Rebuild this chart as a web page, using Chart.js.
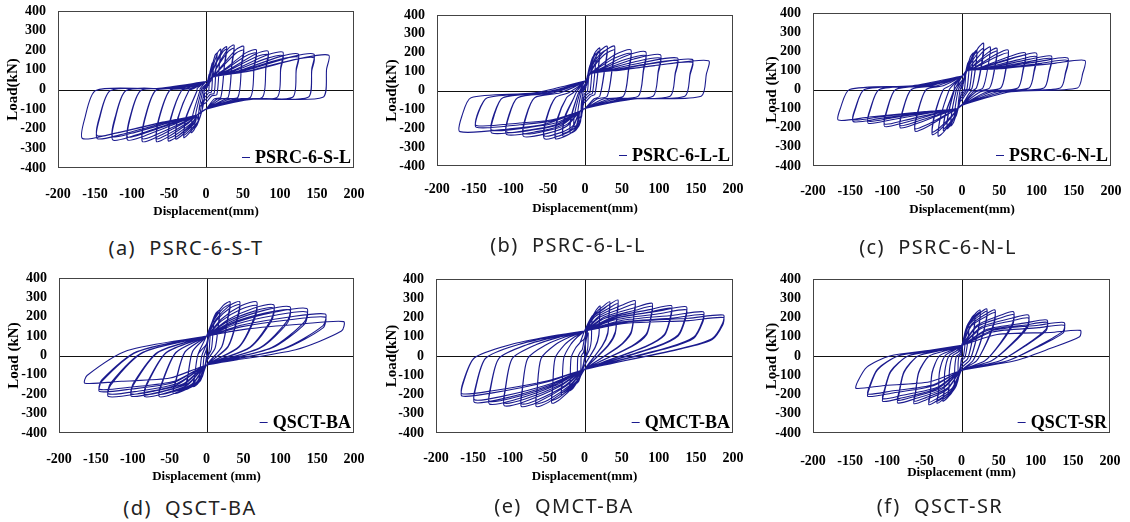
<!DOCTYPE html>
<html>
<head>
<meta charset="utf-8">
<script src="https://cdn.jsdelivr.net/npm/chart.js@4.4.0/dist/chart.umd.min.js"></script>
<style>
  body { margin: 0; background: #fff; }
  #wrap { position: relative; width: 1130px; height: 522px; overflow: hidden; }
  #wrap canvas { position: absolute; }
  .cap { position: absolute; transform: translate(-50%, -50%); white-space: pre;
         font: 20px "Noto Sans", "Noto Sans CJK KR", sans-serif; color: #222; letter-spacing: 1.4px; }
</style>
</head>
<body>
<div id="wrap"></div>
<script>
// ===== 축 눈금 / 라벨 =====
const dispTicks = [-200, -150, -100, -50, 0, 50, 100, 150, 200];
const loadTicks = [-400, -300, -200, -100, 0, 100, 200, 300, 400];
const specimens = ['PSRC-6-S-L', 'PSRC-6-L-L', 'PSRC-6-N-L', 'QSCT-BA', 'QMCT-BA', 'QSCT-SR'];
const captions = ['(a)  PSRC-6-S-T', '(b)  PSRC-6-L-L', '(c)  PSRC-6-N-L', '(d)  QSCT-BA', '(e)  QMCT-BA', '(f)  QSCT-SR'];
const yTitles = ['Load(kN)', 'Load(kN)', 'Load (kN)', 'Load (kN)', 'Load(kN)', 'Load (kN)'];
const xTitles = ['Displacement(mm)', 'Displacement(mm)', 'Displacement(mm)', 'Displacement (mm)', 'Displacement(mm)', 'Displacement (mm)'];

// ===== 사이클 피크값 (변위 mm, 하중 kN) =====
// (a) PSRC-6-S-L
const aDispPos = [5, 10, 15, 20, 28, 28, 38, 38, 51, 51, 68, 68, 84, 84, 104, 104, 125, 125, 146, 146, 166];
const aLoadPos = [80, 140, 185, 205, 218, 205, 226, 210, 220, 200, 202, 185, 195, 178, 190, 172, 180, 165, 180, 162, 175];
const aDispNeg = [-5, -10, -15, -20, -30, -30, -41, -41, -51, -51, -67, -67, -86, -86, -106, -106, -126, -126, -147, -147, -167];
const aLoadNeg = [-90, -150, -195, -220, -245, -232, -252, -240, -262, -248, -265, -250, -265, -250, -257, -242, -257, -240, -250, -235, -250];
// (b) PSRC-6-L-L
const bDispPos = [5, 10, 15, 20, 20, 30, 30, 40, 40, 62, 62, 82, 82, 102, 102, 125, 125, 145, 145, 167];
const bLoadPos = [90, 150, 195, 225, 210, 235, 215, 235, 215, 215, 195, 205, 185, 190, 172, 172, 158, 165, 150, 158];
const bDispNeg = [-5, -10, -15, -20, -20, -30, -30, -40, -40, -55, -55, -83, -83, -106, -106, -126, -126, -147, -147, -169];
const bLoadNeg = [-90, -150, -190, -225, -210, -240, -225, -255, -240, -255, -240, -243, -228, -233, -220, -225, -210, -195, -185, -218];
// (c) PSRC-6-N-L
const cDispPos = [5, 10, 15, 20, 20, 29, 29, 38, 47, 47, 62, 62, 85, 85, 100, 100, 120, 120, 142, 142, 165];
const cLoadPos = [90, 150, 190, 206, 195, 242, 215, 222, 216, 200, 206, 190, 192, 178, 190, 172, 175, 162, 165, 152, 152];
const cDispNeg = [-5, -10, -15, -20, -20, -25, -25, -32, -40, -40, -63, -63, -83, -83, -104, -104, -126, -126, -146, -146, -166];
const cLoadNeg = [-90, -150, -190, -205, -195, -215, -205, -244, -236, -222, -218, -205, -200, -188, -193, -180, -176, -165, -168, -158, -160];
// (d) QSCT-BA
const dDispPos = [5, 10, 18, 18, 32, 32, 45, 45, 68, 68, 91, 91, 113, 113, 136, 136, 161, 161, 186];
const dLoadPos = [110, 180, 234, 222, 277, 262, 278, 262, 277, 258, 262, 245, 252, 235, 243, 225, 214, 198, 175];
const dDispNeg = [-5, -10, -18, -18, -29, -29, -45, -45, -64, -64, -84, -84, -102, -102, -133, -133, -145, -145, -165];
const dLoadNeg = [-70, -120, -160, -150, -175, -165, -195, -185, -212, -200, -212, -200, -210, -198, -212, -198, -186, -175, -143];
// (e) QMCT-BA
const eDispPos = [5, 10, 21, 21, 34, 34, 45, 45, 68, 68, 91, 91, 117, 117, 137, 137, 160, 160, 187, 187];
const eLoadPos = [120, 190, 260, 245, 282, 265, 291, 272, 288, 270, 274, 258, 262, 248, 256, 240, 230, 215, 213, 200];
const eDispNeg = [-5, -10, -20, -20, -31, -31, -44, -44, -65, -65, -85, -85, -108, -108, -128, -128, -148, -148, -165, -165];
const eLoadNeg = [-80, -140, -180, -170, -200, -190, -245, -230, -262, -248, -262, -248, -258, -244, -250, -236, -242, -228, -208, -196];
// (f) QSCT-SR
const fDispPos = [5, 10, 18, 18, 25, 25, 34, 34, 45, 45, 70, 70, 90, 90, 115, 115, 138, 138, 160];
const fLoadPos = [90, 160, 215, 205, 239, 228, 245, 232, 239, 225, 230, 215, 213, 198, 187, 175, 174, 160, 133];
const fDispNeg = [-5, -10, -18, -18, -25, -25, -33, -33, -44, -44, -64, -64, -86, -86, -106, -106, -126, -126, -142];
const fLoadNeg = [-90, -160, -210, -200, -235, -225, -245, -235, -253, -240, -248, -235, -244, -230, -236, -222, -210, -198, -168];

// ===== 루프 형상 (그림에서 읽은 경유점) =====
// 각 점: [피크변위 비율, 변위 보정(mm), 피크하중 비율, 하중 보정(kN)]
const aPosPath = [[0, 0, 0, 40], [0, 10, 0, 65], [0.35, 0, 0.25, 49], [0.8, 0, 0.93, 0], [1, 0, 1, 0], [1, -3, 0.6, 0], [1, -8, 0, -40], [0.4, 0, 0, -48], [0, 0, 0, -100]];
const aNegPath = [[0, -12, 0, -130], [0.35, 0, 0.3, -91], [0.8, 0, 0.93, 0], [1, 0, 1, 0], [1, 3, 0.6, 0], [1, 18, 0, -5], [0.4, 0, 0, 5]];
const bPosPath = [[0, 0, 0, 50], [0, 7, 0, 88], [0.3, 0, 0.3, 62], [0.65, 0, 0.88, 0], [1, 0, 1, 0], [1, -3, 0.55, 0], [1, -10, 0, -30], [0.4, 0, 0, -45], [0, 0, 0, -95]];
const bNegPath = [[0, -7, 0, -110], [0.3, 0, 0.6, -44], [0.6, 0, 0.93, 0], [1, 0, 1, 0], [1, 3, 0.6, 0], [1, 15, 0, -38], [0.4, 0, 0, -12]];
const cPosPath = [[0, 0, 0, 70], [0, 6, 0, 98], [0.3, 0, 0.2, 78], [0.75, 0, 0.9, 0], [1, 0, 1, 0], [1, -3, 0.55, 0], [1, -10, 0, 8], [0.4, 0, 0, -12], [0, 0, 0, -82]];
const cNegPath = [[0, -6, 0, -100], [0.3, 0, 0.25, -75], [0.75, 0, 0.9, 0], [1, 0, 1, 0], [1, 3, 0.6, 0], [1, 15, 0, 0], [0.4, 0, 0, 20]];
const dPosPath = [[0, 0, 0, 100], [0.3, 0, 0.5, 50], [0.7, 0, 0.93, 0], [1, 0, 1, 0], [1, -3, 0.72, 0], [0.65, 0, 0.17, 0], [0, 0, 0, -50]];
const dNegPath = [[0.3, 0, 0.5, -45], [0.7, 0, 0.93, 0], [1, 0, 1, 0], [1, 3, 0.72, 0], [0.65, 0, 0.17, 50]];
const ePosPath = [[0, 0, 0, 130], [0.3, 0, 0.45, 80], [0.75, 0, 0.92, 0], [1, 0, 1, 0], [1, -1, 0.8, 0], [0.92, 0, 0.43, 0], [0.7, 0, 0.19, 0], [0, 0, 0, -70]];
const eNegPath = [[0.3, 0, 0.45, -40], [0.75, 0, 0.92, 0], [1, 0, 1, 0], [1, 1, 0.72, 0], [0.9, 0, 0.05, 0], [0.6, 0, 0, 60], [0.3, 0, 0, 100]];
const fPosPath = [[0, 0, 0, 55], [0.3, 0, 0.5, 45], [0.75, 0, 0.92, 0], [1, 0, 1, 0], [1, -1, 0.75, 0], [0.75, 0, 0.3, 0], [0.45, 0, 0, -25], [0, 0, 0, -75]];
const fNegPath = [[0.3, 0, 0.5, -50], [0.75, 0, 0.92, 0], [1, 0, 1, 0], [1, 2, 0.8, 0], [0.9, 0, 0.35, 0], [0.68, 0, 0, 0], [0.3, 0, 0, 30]];

const SMALL_CYCLE = 30;  // 이보다 작은 진폭은 핀칭을 축소
const LINE = '#1b1b8e';
const SERIF = '"Liberation Serif", "Times New Roman", serif';

// 패널 배치 (플롯 박스 x, y, w, h)
const layout = [
  { box: [58, 11, 296, 157], tick: 25, title: 44, yt: 45, cap: [186, 247] },
  { box: [437, 15, 296, 151], tick: 22, title: 43, yt: 45, cap: [568, 244] },
  { box: [813, 13, 298, 153], tick: 24, title: 44, yt: 41, cap: [938, 246] },
  { box: [59, 278, 295, 155], tick: 25, title: 44, yt: 45, cap: [190, 507] },
  { box: [436, 279, 297, 154], tick: 24, title: 44, yt: 44, cap: [564, 505] },
  { box: [813, 279, 297, 154], tick: 27, title: 40, yt: 41, cap: [940, 505] }
];

const series = [
  [aDispPos, aLoadPos, aDispNeg, aLoadNeg, aPosPath, aNegPath],
  [bDispPos, bLoadPos, bDispNeg, bLoadNeg, bPosPath, bNegPath],
  [cDispPos, cLoadPos, cDispNeg, cLoadNeg, cPosPath, cNegPath],
  [dDispPos, dLoadPos, dDispNeg, dLoadNeg, dPosPath, dNegPath],
  [eDispPos, eLoadPos, eDispNeg, eLoadNeg, ePosPath, eNegPath],
  [fDispPos, fLoadPos, fDispNeg, fLoadNeg, fPosPath, fNegPath]
];

// 사이클별 경유점 연결
function loopPoints(dPos, pPos, dNeg, pNeg, posPath, negPath) {
  const pts = [{ x: 0, y: 0 }];
  dPos.forEach((dp, i) => {
    const s = Math.min(1, Math.max(dp, -dNeg[i]) / SMALL_CYCLE);
    posPath.forEach(([xf, xa, yf, ya]) => pts.push({ x: dp * xf + xa * s, y: pPos[i] * yf + ya * s }));
    negPath.forEach(([xf, xa, yf, ya]) => pts.push({ x: dNeg[i] * xf + xa * s, y: pNeg[i] * yf + ya * s }));
  });
  // 마지막 재재하 시작점
  const [, xa0, , ya0] = posPath[0];
  pts.push({ x: xa0, y: ya0 });
  return pts;
}

// 테두리, 0축, 범례
const frame = {
  id: 'frame',
  beforeDatasetsDraw(chart) {
    const { ctx, chartArea: a, scales: { x, y } } = chart;
    const x0 = Math.round(x.getPixelForValue(0)) + 0.5;
    const y0 = Math.round(y.getPixelForValue(0)) + 0.5;
    ctx.save();
    ctx.lineWidth = 1;
    ctx.strokeStyle = '#111';
    ctx.beginPath();
    ctx.moveTo(x0, a.top); ctx.lineTo(x0, a.bottom);
    ctx.moveTo(a.left, y0); ctx.lineTo(a.right, y0);
    ctx.stroke();
    ctx.strokeStyle = '#444';
    ctx.strokeRect(Math.round(a.left) + 0.5, Math.round(a.top) + 0.5, Math.round(a.width) - 1, Math.round(a.height) - 1);
    ctx.restore();
  },
  afterDatasetsDraw(chart, args, opts) {
    const { ctx, chartArea: a } = chart;
    ctx.save();
    ctx.font = 'bold 18px ' + SERIF;
    ctx.fillStyle = '#000';
    ctx.textAlign = 'right';
    ctx.textBaseline = 'alphabetic';
    const tx = a.right - 3, ty = a.bottom - 5;
    ctx.fillText(opts.name, tx, ty);
    const w = ctx.measureText(opts.name).width;
    ctx.strokeStyle = LINE;
    ctx.lineWidth = 1;
    ctx.beginPath();
    ctx.moveTo(tx - w - 13, Math.round(ty - 6) + 0.5);
    ctx.lineTo(tx - w - 5, Math.round(ty - 6) + 0.5);
    ctx.stroke();
    ctx.restore();
  }
};

const wrap = document.getElementById('wrap');
const PAD_T = 16, PAD_R = 28, Y_W = 58, X_H = 56;

layout.forEach((L, i) => {
  const [bx, by, bw, bh] = L.box;
  const cv = document.createElement('canvas');
  cv.width = Y_W + bw + PAD_R;
  cv.height = PAD_T + bh + X_H;
  cv.style.left = (bx - Y_W) + 'px';
  cv.style.top = (by - PAD_T) + 'px';
  wrap.appendChild(cv);

  const cap = document.createElement('div');
  cap.className = 'cap';
  cap.textContent = captions[i];
  cap.style.left = L.cap[0] + 'px';
  cap.style.top = L.cap[1] + 'px';
  wrap.appendChild(cap);

  const tickFont = { family: SERIF, size: 14, weight: 'bold' };
  const [dp, pp, dn, pn, posPath, negPath] = series[i];

  new Chart(cv.getContext('2d'), {
    type: 'scatter',
    data: {
      datasets: [{
        data: loopPoints(dp, pp, dn, pn, posPath, negPath),
        showLine: true,
        borderColor: LINE,
        borderWidth: 1.1,
        pointRadius: 0,
        tension: 0.25,
        fill: false
      }]
    },
    options: {
      responsive: false,
      animation: false,
      devicePixelRatio: 1,
      layout: { padding: { left: 0, top: PAD_T, right: PAD_R, bottom: 0 } },
      plugins: {
        legend: { display: false },
        tooltip: { enabled: false },
        frame: { name: specimens[i] }
      },
      scales: {
        x: {
          type: 'linear', min: -200, max: 200,
          grid: { display: false }, border: { display: false },
          afterBuildTicks: sc => { sc.ticks = dispTicks.map(v => ({ value: v })); },
          afterFit: sc => { sc.height = X_H; },
          ticks: { autoSkip: false, maxRotation: 0, padding: L.tick - 15.4, color: '#000', font: tickFont },
          title: {
            display: true, text: xTitles[i], color: '#000',
            font: { family: SERIF, size: 13, weight: 'bold' },
            padding: { top: 0, bottom: X_H - L.title - 7.8 }
          }
        },
        y: {
          type: 'linear', min: -400, max: 400,
          grid: { display: false }, border: { display: false },
          afterBuildTicks: sc => { sc.ticks = loadTicks.map(v => ({ value: v })); },
          afterFit: sc => { sc.width = Y_W; },
          ticks: { autoSkip: false, padding: 4, color: '#000', font: tickFont },
          title: {
            display: true, text: yTitles[i], color: '#000',
            font: { family: SERIF, size: 15, weight: 'bold' },
            padding: { top: Y_W - L.yt - 9, bottom: 0 }
          }
        }
      }
    },
    plugins: [frame]
  });
});
</script>
</body>
</html>
